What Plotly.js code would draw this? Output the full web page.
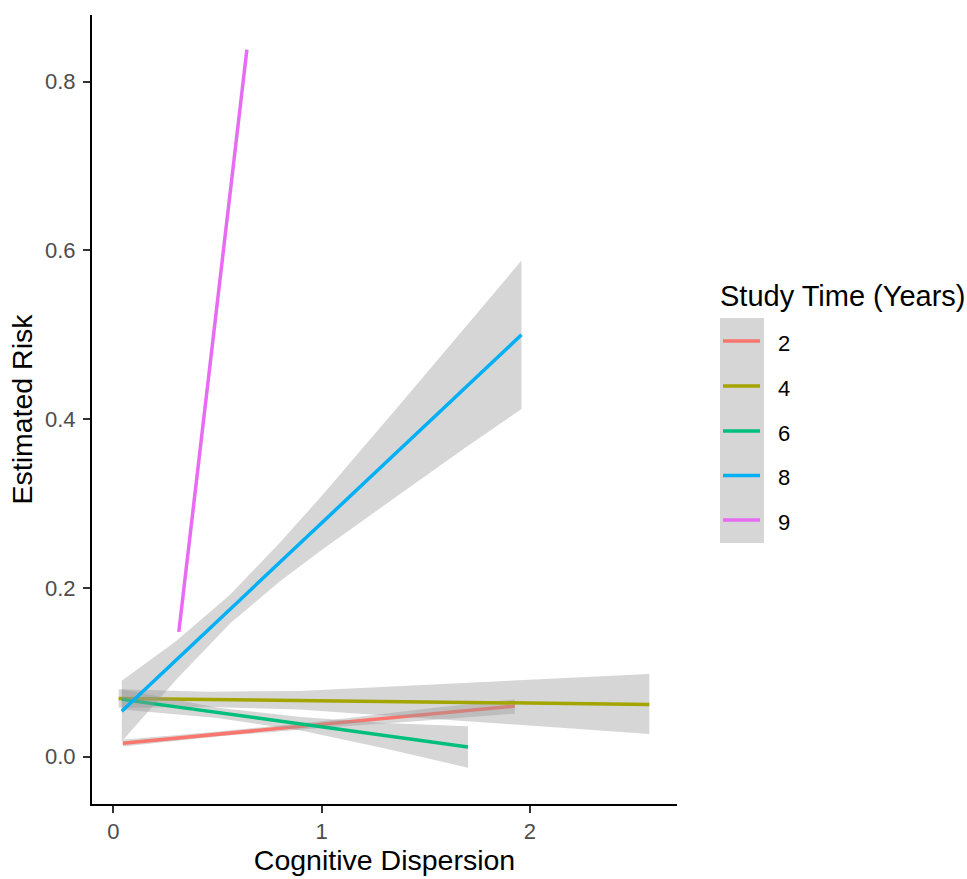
<!DOCTYPE html>
<html>
<head>
<meta charset="utf-8">
<script src="https://cdn.plot.ly/plotly-3.0.1.min.js"></script>
<style>html,body{margin:0;padding:0;background:#fff;}#chart{width:967px;height:879px;}</style>
</head>
<body>
<div id="chart"></div>
<script>
// ---------- data ----------
const groups = ['2', '4', '6', '8', '9'];

// fitted lines (start and end of each smooth)
const line2X = [0.045, 1.928];  const line2Y = [0.016, 0.060];
const line4X = [0.025, 2.574];  const line4Y = [0.069, 0.062];
const line6X = [0.040, 1.703];  const line6Y = [0.068, 0.0115];
const line8X = [0.040, 1.960];  const line8Y = [0.054, 0.500];
const line9X = [0.314, 0.641];  const line9Y = [0.148, 0.838];

// confidence ribbons
const band2X  = [0.045, 0.5, 1.0, 1.5, 1.928];
const band2Lo = [0.012, 0.024, 0.034, 0.043, 0.051];
const band2Hi = [0.020, 0.030, 0.042, 0.057, 0.068];

const band4X  = [0.025, 0.45, 0.894, 1.663, 2.574];
const band4Lo = [0.058, 0.059, 0.056, 0.043, 0.027];
const band4Hi = [0.080, 0.077, 0.078, 0.087, 0.098];

const band6X  = [0.040, 0.5, 0.9, 1.3, 1.703];
const band6Lo = [0.056, 0.046, 0.031, 0.010, -0.013];
const band6Hi = [0.080, 0.058, 0.047, 0.040, 0.036];

const band8X  = [0.040, 0.3, 0.56, 0.8, 1.0, 1.375, 1.7, 1.960];
const band8Lo = [0.018, 0.091, 0.158, 0.208, 0.245, 0.311, 0.368, 0.412];
const band8Hi = [0.090, 0.137, 0.192, 0.254, 0.309, 0.417, 0.512, 0.588];

const xTickVals = [0, 1, 2];
const yTickVals = [0.0, 0.2, 0.4, 0.6, 0.8];
const yTickText = ['0.0', '0.2', '0.4', '0.6', '0.8'];

const xTitle = 'Cognitive Dispersion';
const yTitle = 'Estimated Risk';
const legendTitle = 'Study Time (Years)';

// ---------- styles ----------
const colors = ['#F8766D', '#A3A500', '#00BF7D', '#00B0F6', '#E76BF3'];
const ribbonFill = 'rgba(153,153,153,0.4)';
const FONT = 'Liberation Sans, Arial, Helvetica, sans-serif';
const LW = 3.5;

const lines = [[line2X, line2Y], [line4X, line4Y], [line6X, line6Y], [line8X, line8Y], [line9X, line9Y]];
const bands = [[band2X, band2Lo, band2Hi], [band4X, band4Lo, band4Hi], [band6X, band6Lo, band6Hi], [band8X, band8Lo, band8Hi], null];

const traces = [];
groups.forEach((g, i) => {
  const b = bands[i];
  if (b) {
    const [bx, lo, hi] = b;
    traces.push({
      type: 'scatter', mode: 'lines',
      x: bx.concat(bx.slice().reverse()),
      y: hi.concat(lo.slice().reverse()),
      fill: 'toself', fillcolor: ribbonFill,
      line: {width: 0, color: 'rgba(0,0,0,0)'},
      hoverinfo: 'skip', showlegend: false
    });
  }
  traces.push({
    type: 'scatter', mode: 'lines',
    x: lines[i][0], y: lines[i][1],
    name: g,
    line: {color: colors[i], width: LW},
    showlegend: false
  });
});

// ---------- layout ----------
const M = {l: 92, r: 290, t: 15, b: 75};
const W = 967 - M.l - M.r, H = 879 - M.t - M.b;
const px = v => (v - M.l) / W;
const py = v => (879 - M.b - v) / H;

const shapes = [{
  type: 'rect', xref: 'paper', yref: 'paper',
  x0: px(720), x1: px(764), y0: py(543), y1: py(318),
  fillcolor: 'rgb(214,214,214)', line: {width: 0}, layer: 'above'
}];
const annotations = [{
  xref: 'paper', yref: 'paper', x: px(718), y: py(296),
  xanchor: 'left', yanchor: 'middle', showarrow: false,
  text: legendTitle, font: {family: FONT, size: 29, color: '#000'}
}];
const keyY = [341, 386, 431, 475.5, 520];
groups.forEach((g, i) => {
  shapes.push({
    type: 'line', xref: 'paper', yref: 'paper',
    x0: px(723), x1: px(760), y0: py(keyY[i]), y1: py(keyY[i]),
    line: {color: colors[i], width: LW}, layer: 'above'
  });
  annotations.push({
    xref: 'paper', yref: 'paper', x: px(776), y: py(keyY[i] + 2),
    xanchor: 'left', yanchor: 'middle', showarrow: false,
    text: g, font: {family: FONT, size: 22, color: '#000'}
  });
});

const axisCommon = {
  showgrid: false, zeroline: false,
  showline: true, linecolor: '#000', linewidth: 2,
  ticks: 'outside', ticklen: 7, tickwidth: 2, tickcolor: '#333',
  tickfont: {family: FONT, size: 22, color: '#4D4D4D'},
  automargin: false
};

const layout = {
  width: 967, height: 879,
  margin: M,
  paper_bgcolor: '#fff', plot_bgcolor: '#fff',
  showlegend: false,
  font: {family: FONT},
  xaxis: Object.assign({}, axisCommon, {
    range: [-0.103, 2.707],
    tickvals: xTickVals, ticktext: xTickVals.map(String),
    title: {text: xTitle, font: {family: FONT, size: 28.5, color: '#000'}, standoff: 7}
  }),
  yaxis: Object.assign({}, axisCommon, {
    range: [-0.056, 0.879],
    tickvals: yTickVals, ticktext: yTickText,
    ticklabelstandoff: 3,
    title: {text: yTitle, font: {family: FONT, size: 28.5, color: '#000'}, standoff: 4}
  }),
  shapes: shapes,
  annotations: annotations
};

Plotly.newPlot('chart', traces, layout, {staticPlot: true});
</script>
</body>
</html>
